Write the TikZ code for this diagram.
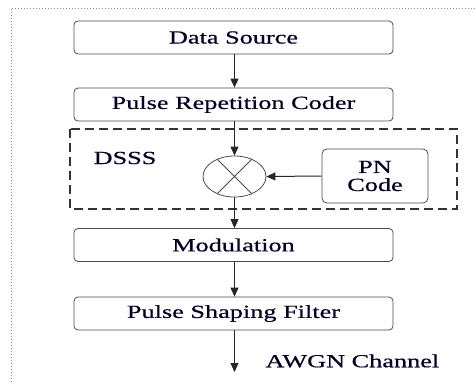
\documentclass[tikz,border=0pt]{standalone}
\usepackage{fontspec}
\setmainfont{Liberation Serif}
\newfontfamily\semib[FakeBold=0.45]{Liberation Serif}
\usetikzlibrary{arrows.meta,shapes.geometric}
\newcommand\tx[1]{\scalebox{1.42}[1]{\semib #1}}
\tikzset{
  blk/.style={draw=black!70, line width=0.8pt, rounded corners=4pt, minimum width=319pt, minimum height=33pt, inner sep=0pt},
  arr/.style={draw=black!85, line width=1pt, -{Triangle[length=9pt,width=8pt]}},
  txt/.style={font=\fontsize{18.5}{20}\selectfont, text=black!85!blue},
}
\begin{document}
\begin{tikzpicture}[x=1pt,y=-1pt]
\useasboundingbox (0,0) rectangle (475,384);
\draw[black!45, line width=1pt, dotted] (475,8) -- (11,8) -- (11,384);
\node[blk,txt] (ds) at (233.5,37.5) {\tx{Data Source}};
\node[blk,txt] (prc) at (233.5,104.5) {\tx{Pulse Repetition Coder}};
\draw[black!80, line width=1.2pt, dash pattern=on 9pt off 5pt] (70,129) rectangle (457,209);
\node[txt, anchor=center] (dsss) at (125,158) {\tx{DSSS}};
\node[ellipse, draw=black!70, line width=0.8pt, minimum width=63pt, minimum height=41pt, inner sep=0pt] (mix) at (234.5,176.5) {};
\draw[black!70, line width=0.8pt] (mix.45) -- (mix.225) (mix.135) -- (mix.315);
\node[draw=black!70, line width=0.8pt, rounded corners=5pt, minimum width=106pt, minimum height=54pt, inner sep=0pt, txt, align=center, font=\fontsize{18.5}{19}\selectfont] (pn) at (375,176) {\tx{PN}\\[-1pt]\tx{Code}};
\node[blk,txt] (mod) at (233.5,245) {\tx{Modulation}};
\node[blk,txt] (psf) at (233.5,313.5) {\tx{Pulse Shaping Filter}};
\coordinate (out) at (234.5,372);
\node[txt, anchor=west] (awgn) at (262,361) {\tx{AWGN Channel}};
\draw[arr] (ds.south -| 234.5,0) -- (prc.north -| 234.5,0);
\draw[arr] (prc.south -| 234.5,0) -- (mix.north);
\draw[arr] (pn.west) -- (mix.east);
\draw[arr] (mix.south) -- (mod.north -| 234.5,0);
\draw[arr] (mod.south -| 234.5,0) -- (psf.north -| 234.5,0);
\draw[arr] (psf.south -| 234.5,0) -- (out);
\end{tikzpicture}
\end{document}
